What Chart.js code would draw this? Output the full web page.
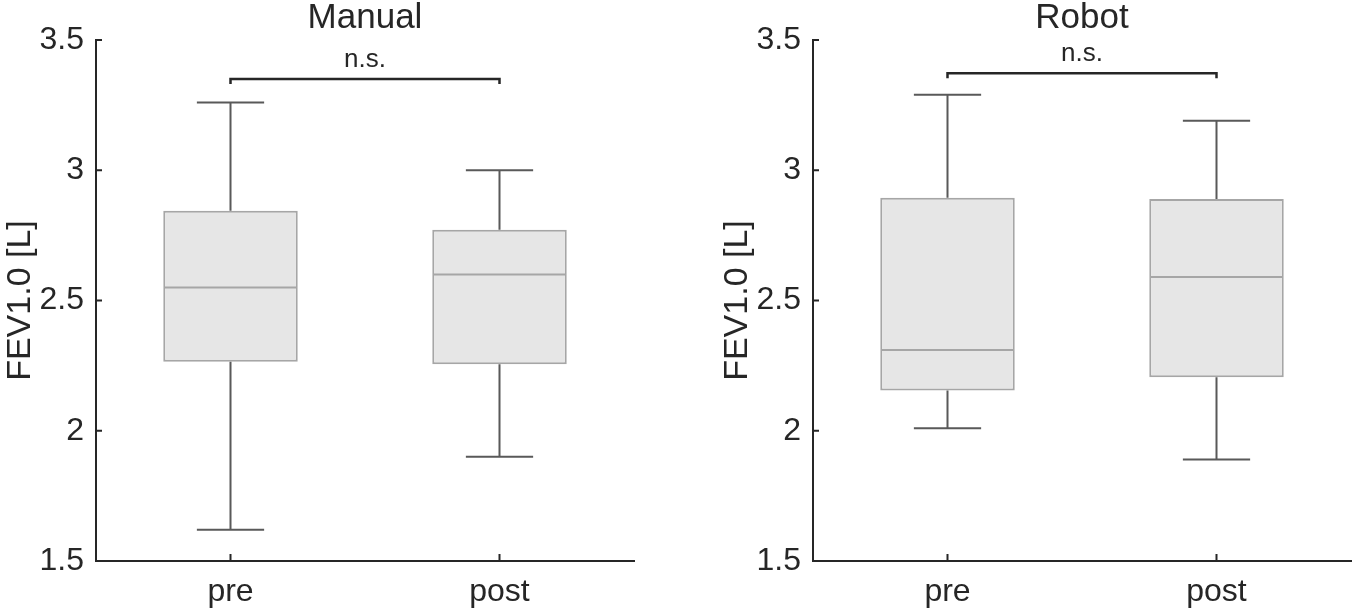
<!DOCTYPE html>
<html>
<head>
<meta charset="utf-8">
<title>FEV1.0 pre / post</title>
<script src="https://cdn.jsdelivr.net/npm/chart.js@4.4.1/dist/chart.umd.min.js"></script>
<style>
    html, body { margin: 0; padding: 0; background: #fff; }
    #wrap { position: relative; width: 1354px; height: 608px; overflow: hidden; }
    .panel { position: absolute; top: 0; width: 637px; height: 608px; }
    #panel-manual { left: 0; }
    #panel-robot { left: 717px; }
</style>
</head>
<body>
<div id="wrap">
    <div class="panel" id="panel-manual"><canvas id="chart-manual"></canvas></div>
    <div class="panel" id="panel-robot"><canvas id="chart-robot"></canvas></div>
</div>
<script>
// --- data ---
const categories = ['pre', 'post'];
const yTicks = [1.5, 2, 2.5, 3, 3.5];
const yLabel = 'FEV1.0 [L]';
const sigLabel = 'n.s.';

const manualMin = [1.62, 1.90];
const manualQ1 = [2.265, 2.255];
const manualMedian = [2.55, 2.60];
const manualQ3 = [2.845, 2.772];
const manualMax = [3.26, 3.00];
const manualBracket = 3.35;

const robotMin = [2.01, 1.89];
const robotQ1 = [2.155, 2.205];
const robotMedian = [2.31, 2.59];
const robotQ3 = [2.895, 2.89];
const robotMax = [3.29, 3.19];
const robotBracket = 3.373;

// --- styling ---
const FONT = "'Liberation Sans', Arial, Helvetica, sans-serif";
const INK = '#262626';
const WHISKER = '#595959';
const BOX_EDGE = '#a6a6a6';
const BOX_FILL = '#e6e6e6';

// whiskers, medians, inward ticks and the significance bracket
const boxPlotExtras = {
    id: 'boxPlotExtras',
    afterDatasetsDraw(chart, args, opts) {
        const { ctx, scales: { x, y } } = chart;
        const band = x.width / categories.length;
        const boxHalf = band * 0.25;
        const capHalf = band * 0.125;

        ctx.save();
        categories.forEach((c, i) => {
            const cx = x.getPixelForValue(i);
            // whiskers
            ctx.strokeStyle = WHISKER;
            ctx.lineWidth = 2;
            ctx.beginPath();
            ctx.moveTo(cx, y.getPixelForValue(opts.q3[i]));
            ctx.lineTo(cx, y.getPixelForValue(opts.max[i]));
            ctx.moveTo(cx, y.getPixelForValue(opts.q1[i]));
            ctx.lineTo(cx, y.getPixelForValue(opts.min[i]));
            ctx.moveTo(cx - capHalf, y.getPixelForValue(opts.max[i]));
            ctx.lineTo(cx + capHalf, y.getPixelForValue(opts.max[i]));
            ctx.moveTo(cx - capHalf, y.getPixelForValue(opts.min[i]));
            ctx.lineTo(cx + capHalf, y.getPixelForValue(opts.min[i]));
            ctx.stroke();
            // median
            ctx.strokeStyle = BOX_EDGE;
            ctx.beginPath();
            ctx.moveTo(cx - boxHalf + 1, y.getPixelForValue(opts.median[i]));
            ctx.lineTo(cx + boxHalf - 1, y.getPixelForValue(opts.median[i]));
            ctx.stroke();
        });

        // bracket
        const x0 = x.getPixelForValue(0);
        const x1 = x.getPixelForValue(categories.length - 1);
        const by = y.getPixelForValue(opts.bracket);
        ctx.strokeStyle = INK;
        ctx.lineWidth = 2.5;
        ctx.beginPath();
        ctx.moveTo(x0, by + 5);
        ctx.lineTo(x0, by);
        ctx.lineTo(x1, by);
        ctx.lineTo(x1, by + 5);
        ctx.stroke();
        ctx.fillStyle = INK;
        ctx.font = '26px ' + FONT;
        ctx.textAlign = 'center';
        ctx.textBaseline = 'alphabetic';
        ctx.fillText(sigLabel, (x0 + x1) / 2, by - 12);
        ctx.restore();
    },
    afterDraw(chart) {
        const { ctx, scales: { x, y } } = chart;
        ctx.save();
        ctx.strokeStyle = INK;
        ctx.lineWidth = 2;
        ctx.beginPath();
        yTicks.forEach(v => {
            const py = y.getPixelForValue(v);
            ctx.moveTo(x.left, py);
            ctx.lineTo(x.left + 6, py);
        });
        categories.forEach((c, i) => {
            const px = x.getPixelForValue(i);
            ctx.moveTo(px, y.bottom);
            ctx.lineTo(px, y.bottom - 7);
        });
        ctx.stroke();
        ctx.restore();
    }
};

function makePanel(canvasId, title, min, q1, median, q3, max, bracket) {
    const ctx = document.getElementById(canvasId).getContext('2d');
    return new Chart(ctx, {
        type: 'bar',
        data: {
            labels: categories,
            datasets: [{
                data: categories.map((c, i) => [q1[i], q3[i]]),
                backgroundColor: BOX_FILL,
                borderColor: BOX_EDGE,
                borderWidth: 2,
                borderSkipped: false,
                barPercentage: 0.5,
                categoryPercentage: 1
            }]
        },
        options: {
            responsive: true,
            maintainAspectRatio: false,
            animation: false,
            layout: { padding: { left: 0, right: 3, top: 0, bottom: 0 } },
            plugins: {
                legend: { display: false },
                tooltip: { enabled: false },
                title: {
                    display: true,
                    text: title,
                    fullSize: false,
                    color: INK,
                    font: { family: FONT, size: 35, weight: 'normal', lineHeight: 1.03 },
                    padding: { top: 0, bottom: 4 }
                },
                boxPlotExtras: { min, q1, median, q3, max, bracket }
            },
            scales: {
                x: {
                    type: 'category',
                    offset: true,
                    grid: { display: false, drawTicks: false },
                    border: { display: true, color: INK, width: 2 },
                    ticks: { color: INK, padding: 12, font: { family: FONT, size: 32 } },
                    afterFit: scale => { scale.height = 47; }
                },
                y: {
                    min: 1.5,
                    max: 3.5,
                    grid: { display: false, drawTicks: false },
                    border: { display: true, color: INK, width: 2 },
                    afterBuildTicks: scale => { scale.ticks = yTicks.map(v => ({ value: v })); },
                    ticks: {
                        color: INK,
                        padding: 12,
                        font: { family: FONT, size: 32 },
                        callback: v => String(v)
                    },
                    title: {
                        display: true,
                        text: yLabel,
                        color: INK,
                        padding: 0,
                        font: { family: FONT, size: 34 }
                    },
                    afterFit: scale => { scale.width = 96; }
                }
            }
        },
        plugins: [boxPlotExtras]
    });
}

makePanel('chart-manual', 'Manual', manualMin, manualQ1, manualMedian, manualQ3, manualMax, manualBracket);
makePanel('chart-robot', 'Robot', robotMin, robotQ1, robotMedian, robotQ3, robotMax, robotBracket);
</script>
</body>
</html>
